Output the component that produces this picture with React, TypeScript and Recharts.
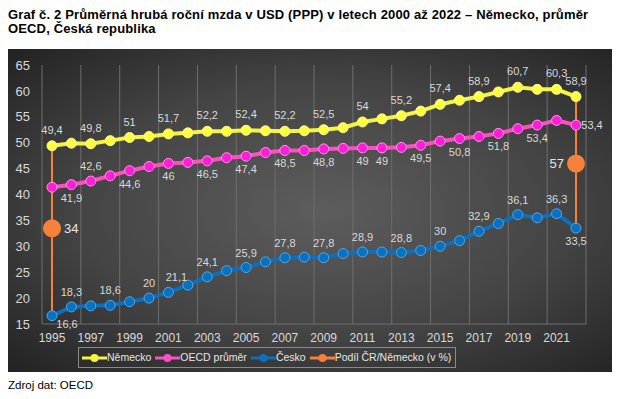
import React from 'react';
import { LineChart, Line, XAxis, YAxis, CartesianGrid, Legend, LabelList, ReferenceLine } from 'recharts';

const years = [1995, 1996, 1997, 1998, 1999, 2000, 2001, 2002, 2003, 2004, 2005, 2006, 2007, 2008, 2009, 2010, 2011, 2012, 2013, 2014, 2015, 2016, 2017, 2018, 2019, 2020, 2021, 2022];

const germany = [49.4, 49.9, 49.8, 50.4, 51, 51.2, 51.7, 51.9, 52.2, 52.2, 52.4, 52.3, 52.2, 52.3, 52.5, 52.9, 54, 54.6, 55.2, 56.1, 57.4, 58.2, 58.9, 59.8, 60.7, 60.3, 60.3, 58.9];
const oecd = [41.4, 41.9, 42.6, 43.6, 44.6, 45.4, 46, 46.2, 46.5, 47.1, 47.4, 48.1, 48.5, 48.5, 48.8, 48.9, 49, 49, 49.1, 49.5, 50.3, 50.8, 51.2, 51.8, 52.7, 53.4, 54.3, 53.4];
const czech = [16.6, 18.3, 18.5, 18.6, 19.3, 20, 21.1, 22.5, 24.1, 25.3, 25.9, 27, 27.8, 27.9, 27.8, 28.6, 28.9, 28.9, 28.8, 29.2, 30, 31.1, 32.9, 34.4, 36.1, 35.5, 36.3, 33.5];

const shareYears = [1995, 2022];
const shareValues = [34, 57];

const germanyLabelYears = [1995, 1997, 1999, 2001, 2003, 2005, 2007, 2009, 2011, 2013, 2015, 2017, 2019, 2021, 2022];
const oecdLabelYears = [1996, 1997, 1999, 2001, 2003, 2005, 2007, 2009, 2011, 2012, 2014, 2016, 2018, 2020, 2022];
const czechLabelYears = [1995, 1996, 1998, 2000, 2001, 2003, 2005, 2007, 2009, 2011, 2013, 2015, 2017, 2019, 2021, 2022];

const yTicks = [15, 20, 25, 30, 35, 40, 45, 50, 55, 60, 65];

const data = years.map((year, i) => {
  const s = shareYears.indexOf(year);
  return { year, germany: germany[i], oecd: oecd[i], czech: czech[i], share: s >= 0 ? shareValues[s] : null };
});

const FONT = '"Liberation Sans", Arial, sans-serif';
const LABEL = '#d9d9d9';

const YELLOW = '#f5f53a';
const PINK = '#ff4fc3';
const BLUE = '#0a70bf';
const ORANGE = '#f5813a';

const fmt = (v: number) => String(v).replace('.', ',');

// offsets for data labels, per series
const placeGermany = () => ({ dx: 0, dy: -16 });
const placeOecd = (year: number) => {
  if (year === 1997) return { dx: 0, dy: -15 };
  if (year === 2022) return { dx: 16, dy: 0 };
  return { dx: 0, dy: 13 };
};
const placeCzech = (year: number) => {
  if (year === 1995) return { dx: 15, dy: 8 };
  if (year === 2001) return { dx: 8, dy: -15 };
  if (year === 2022) return { dx: 0, dy: 13 };
  return { dx: 0, dy: -15 };
};

const makeLabel = (labelYears: number[], place: (y: number) => { dx: number; dy: number }) => (props: any) => {
  const { index, value } = props;
  const year = years[index];
  if (!labelYears.includes(year) || value == null) return null;
  const x = props.x ?? props.viewBox?.x;
  const y = props.y ?? props.viewBox?.y;
  const p = place(year);
  return (
    <text x={x + p.dx} y={y + p.dy} textAnchor="middle" dominantBaseline="central" fill={LABEL} fontSize={11} fontFamily={FONT}>
      {fmt(value)}
    </text>
  );
};

const shareLabel = (props: any) => {
  const { value } = props;
  if (value == null) return null;
  const x = props.x ?? props.viewBox?.x;
  const y = props.y ?? props.viewBox?.y;
  const first = value === shareValues[0];
  return (
    <text x={first ? x + 12 : x - 12} y={y} textAnchor={first ? 'start' : 'end'} dominantBaseline="central" fill="#e6e6e6" fontSize={13} fontFamily={FONT}>
      {fmt(value)}
    </text>
  );
};

const legendItems = [
  { name: 'Německo', color: YELLOW },
  { name: 'OECD průměr', color: PINK },
  { name: 'Česko', color: BLUE },
  { name: 'Podíl ČR/Německo (v %)', color: ORANGE },
];

const renderLegend = () => (
  <div style={{ display: 'flex', alignItems: 'center', border: '1px solid #8a8a8a', padding: '3px 4px 3px 3px', color: '#e6e6e6', fontSize: 10.5, fontFamily: FONT, whiteSpace: 'nowrap', lineHeight: '13px' }}>
    {legendItems.map((it, i) => (
      <span key={it.name} style={{ display: 'inline-flex', alignItems: 'center', marginRight: i < legendItems.length - 1 ? 4 : 0 }}>
        <svg width={25} height={10}>
          <line x1={0} y1={5} x2={25} y2={5} stroke={it.color} strokeWidth={3} />
          <circle cx={12.5} cy={5} r={4} fill={it.color} />
        </svg>
        <span>{it.name}</span>
      </span>
    ))}
  </div>
);

const gridGenerator = ({ offset }: any) => {
  const xs: number[] = [];
  for (let i = 0; i <= years.length; i += 2) xs.push(offset.left + (offset.width * i) / years.length);
  return xs;
};

export default function App() {
  return (
    <div style={{ position: 'relative', width: 604, height: 383, fontFamily: FONT }}>
      <div style={{ position: 'absolute', left: 0, top: 0, fontSize: 13, letterSpacing: 0.15, fontWeight: 'bold', lineHeight: '14px', color: '#000', whiteSpace: 'nowrap' }}>
        Graf č. 2 Průměrná hrubá roční mzda v USD (PPP) v letech 2000 až 2022 – Německo, průměr
        <br />
        OECD, Česká republika
      </div>
      <div
        style={{
          position: 'absolute',
          left: -1,
          top: 41,
          width: 605,
          height: 323,
          background: 'radial-gradient(ellipse at 52% 50%, #5d5d5d 0%, #444 55%, #222 100%)',
        }}
      >
        <LineChart width={605} height={323} data={data} margin={{ top: 16, right: 26, left: 0, bottom: 7 }}>
          <CartesianGrid horizontal={false} stroke="#6e6e6e" verticalCoordinatesGenerator={gridGenerator} />
          <XAxis
            dataKey="year"
            interval={1}
            padding={{ left: 10, right: 10 }}
            tickLine={false}
            tickSize={0}
            tickMargin={9}
            height={20}
            axisLine={{ stroke: '#6e6e6e' }}
            tick={{ fill: LABEL, fontSize: 12, fontFamily: FONT }}
          />
          <YAxis
            yAxisId="left"
            domain={[15, 65]}
            ticks={yTicks}
            width={35}
            tickLine={false}
            tickSize={0}
            tickMargin={12}
            axisLine={false}
            tick={{ fill: LABEL, fontSize: 13, fontFamily: FONT }}
          />
          <YAxis yAxisId="share" orientation="right" domain={[0, 92]} hide />
          <ReferenceLine
            yAxisId="left"
            segment={[{ x: years[0], y: germany[0] }, { x: years[0], y: czech[0] }]}
            stroke={ORANGE}
            strokeWidth={2}
            ifOverflow="visible"
          />
          <ReferenceLine
            yAxisId="left"
            segment={[{ x: years[years.length - 1], y: germany[germany.length - 1] }, { x: years[years.length - 1], y: czech[czech.length - 1] }]}
            stroke={ORANGE}
            strokeWidth={2}
            ifOverflow="visible"
          />
          <Line yAxisId="left" dataKey="germany" name="Německo" stroke={YELLOW} strokeWidth={4} dot={{ r: 5, fill: '#ffff40', stroke: '#fbfb9a', strokeWidth: 1 }} isAnimationActive={false}>
            <LabelList dataKey="germany" content={makeLabel(germanyLabelYears, placeGermany)} />
          </Line>
          <Line yAxisId="left" dataKey="oecd" name="OECD průměr" stroke={PINK} strokeWidth={4} dot={{ r: 5, fill: '#ff1ed6', stroke: '#ff9be6', strokeWidth: 1 }} isAnimationActive={false}>
            <LabelList dataKey="oecd" content={makeLabel(oecdLabelYears, placeOecd)} />
          </Line>
          <Line yAxisId="left" dataKey="czech" name="Česko" stroke={BLUE} strokeWidth={4} dot={{ r: 5, fill: '#0872c2', stroke: '#5aa4dc', strokeWidth: 1 }} isAnimationActive={false}>
            <LabelList dataKey="czech" content={makeLabel(czechLabelYears, placeCzech)} />
          </Line>
          <Line yAxisId="share" dataKey="share" name="Podíl ČR/Německo (v %)" stroke="none" dot={{ r: 9, fill: ORANGE, stroke: ORANGE, strokeWidth: 0 }} isAnimationActive={false}>
            <LabelList dataKey="share" content={shareLabel} />
          </Line>
          <Legend content={renderLegend} wrapperStyle={{ left: 71, bottom: 4, width: 'auto' }} />
        </LineChart>
      </div>
      <div style={{ position: 'absolute', left: 0, top: 371, fontSize: 11.5, color: '#000' }}>Zdroj dat: OECD</div>
    </div>
  );
}
